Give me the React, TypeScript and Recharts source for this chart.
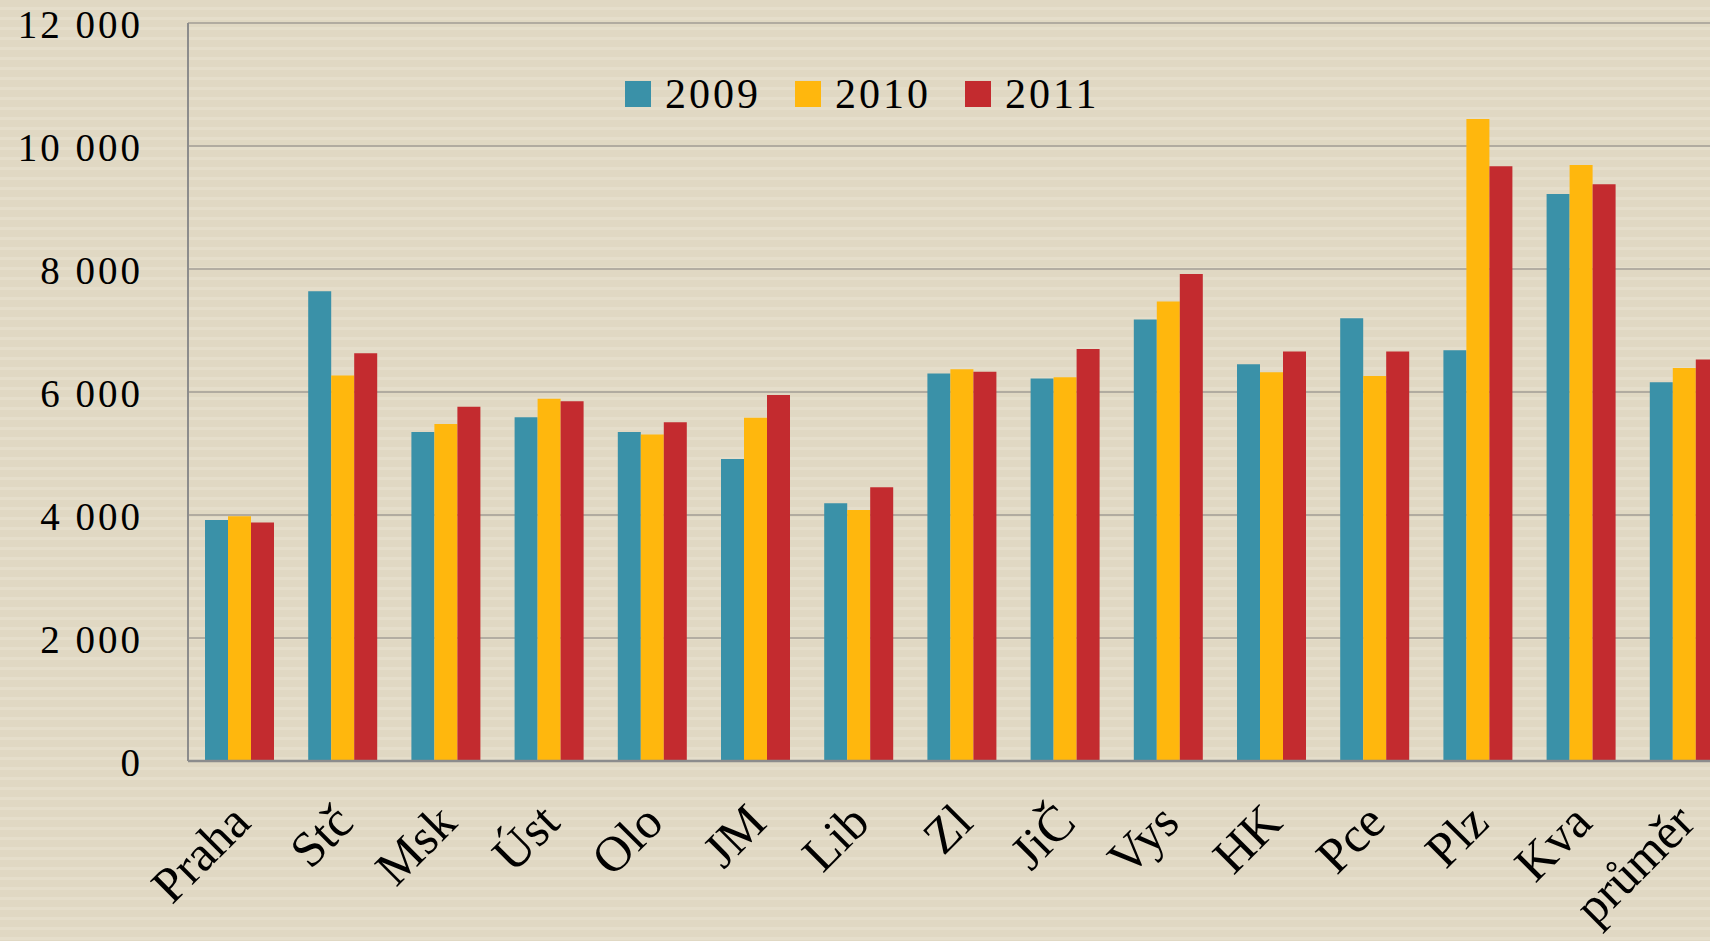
import { BarChart, Bar, XAxis, YAxis, CartesianGrid, Legend } from "recharts";

const regions = ["Praha", "Stč", "Msk", "Úst", "Olo", "JM", "Lib", "Zl", "JiČ", "Vys", "HK", "Pce", "Plz", "Kva", "průměr"];
const y2009 = [3920, 7640, 5350, 5590, 5350, 4910, 4190, 6300, 6220, 7180, 6450, 7200, 6680, 9220, 6160];
const y2010 = [3980, 6270, 5480, 5890, 5310, 5580, 4080, 6370, 6240, 7470, 6320, 6260, 10440, 9690, 6390];
const y2011 = [3880, 6630, 5760, 5850, 5510, 5950, 4450, 6330, 6700, 7920, 6660, 6660, 9670, 9380, 6530];
const yTicks = [0, 2000, 4000, 6000, 8000, 10000, 12000];

const colors = { "2009": "#3a91a8", "2010": "#ffb70d", "2011": "#c32b2f" };
const font = "'Liberation Serif', 'Times New Roman', serif";

const data = regions.map((region, i) => ({
  region,
  "2009": y2009[i],
  "2010": y2010[i],
  "2011": y2011[i],
}));

const fmt = (v: number) => String(v).replace(/\B(?=(\d{3})+(?!\d))/g, " ");

function YTick({ x, y, payload }: any) {
  return (
    <text x={x} y={y + 15} textAnchor="end" fontFamily={font} fontSize={39} letterSpacing={3} fill="#000">
      {fmt(payload.value)}
    </text>
  );
}

function XTick({ x, y, payload }: any) {
  const ax = x + 13;
  const ay = y + 64;
  return (
    <text x={ax} y={ay} textAnchor="end" transform={`rotate(-45, ${ax}, ${ay})`} fontFamily={font} fontSize={50} fill="#000">
      {payload.value}
    </text>
  );
}

function LegendBox({ payload }: any) {
  return (
    <div style={{ display: "flex", alignItems: "center", fontFamily: font, fontSize: 42, letterSpacing: 3, color: "#000" }}>
      {(payload || []).map((p: any, i: number) => (
        <div key={p.value} style={{ display: "flex", alignItems: "center", marginLeft: i === 0 ? 0 : 34 }}>
          <span style={{ width: 26, height: 26, background: p.color, marginRight: 14, display: "inline-block" }} />
          <span style={{ lineHeight: "48px" }}>{p.value}</span>
        </div>
      ))}
    </div>
  );
}

export default function App() {
  return (
    <div
      style={{
        width: 1710,
        height: 941,
        overflow: "hidden",
        position: "relative",
        backgroundColor: "#e1d8c4",
        backgroundImage: "repeating-linear-gradient(180deg, #e0d8c3 0px, #e0d8c3 7px, #e5decb 7px, #e5decb 10px)",
      }}
    >
      <style>{`body{margin:0;overflow:hidden}`}</style>
      <BarChart
        width={1736}
        height={941}
        data={data}
        margin={{ top: 23, right: 0, left: 0, bottom: 0 }}
        barGap={0}
        barCategoryGap={17}
      >
        <CartesianGrid vertical={false} stroke="#a29d95" strokeWidth={1.5} />
        <XAxis
          dataKey="region"
          height={180}
          interval={0}
          tickLine={false}
          tickSize={0}
          tickMargin={0}
          axisLine={{ stroke: "#8c8c8c", strokeWidth: 2.5 }}
          tick={<XTick />}
        />
        <YAxis
          width={188}
          domain={[0, 12000]}
          ticks={yTicks}
          interval={0}
          tickLine={false}
          tickSize={0}
          tickMargin={45}
          axisLine={{ stroke: "#8c8c8c", strokeWidth: 2 }}
          tick={<YTick />}
        />
        <Legend
          layout="horizontal"
          verticalAlign="middle"
          align="center"
          wrapperStyle={{ top: 70, left: 625, width: "auto", height: "auto" }}
          content={<LegendBox />}
        />
        <Bar dataKey="2009" fill={colors["2009"]} isAnimationActive={false} />
        <Bar dataKey="2010" fill={colors["2010"]} isAnimationActive={false} />
        <Bar dataKey="2011" fill={colors["2011"]} isAnimationActive={false} />
      </BarChart>
    </div>
  );
}
